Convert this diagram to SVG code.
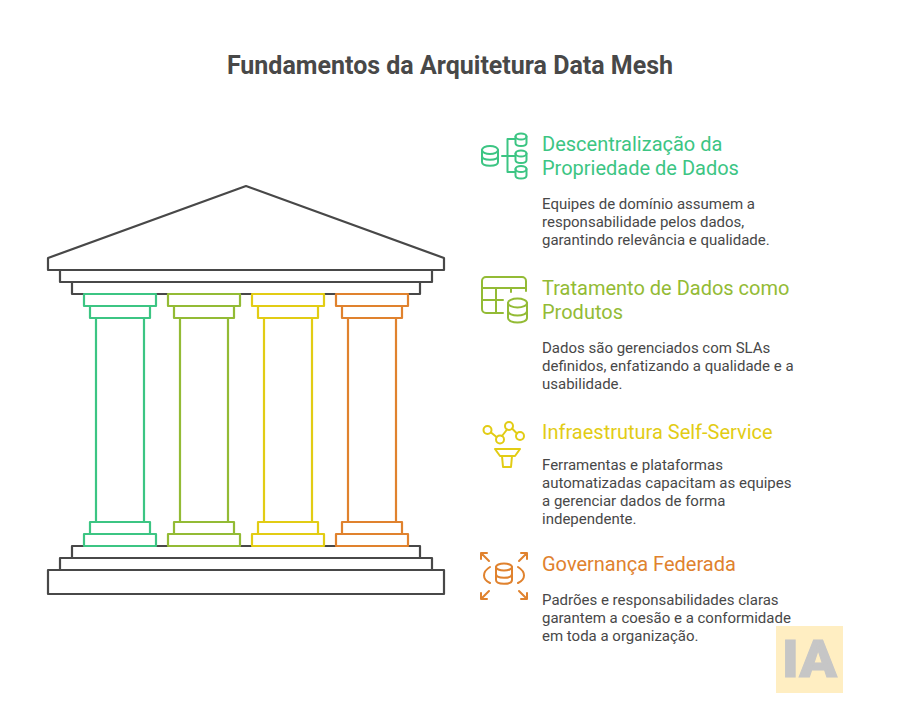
<svg xmlns="http://www.w3.org/2000/svg" width="900" height="720" viewBox="0 0 900 720">
<style>
text{font-family:Roboto,"Liberation Sans",sans-serif}
.t{font-size:25px;font-weight:700;fill:#484848}
.h{font-size:20px;font-weight:400}
.b{font-size:15px;fill:#484848}
.s{fill:#fff;stroke-width:2.200;stroke-linejoin:round;stroke-linecap:round}
.i{fill:none;stroke-width:2;stroke-linejoin:round;stroke-linecap:round}
.k{stroke:#484848}.g{stroke:#3cc583}.l{stroke:#93bb35}.y{stroke:#e2cc14}.o{stroke:#e0822e}
</style>
<rect width="900" height="720" fill="#fff"/>
<text class="t" x="450" y="73.500" text-anchor="middle">Fundamentos da Arquitetura Data Mesh</text>
<g id="temple">
<path class="s k" d="M48 258 L246 186 L444 258 V270 H48 Z"/>
<rect class="s k" x="60" y="270" width="372" height="12"/>
<rect class="s k" x="72" y="282" width="348" height="12"/>
<rect class="s k" x="72" y="546" width="348" height="12"/>
<rect class="s k" x="60" y="558" width="372" height="12"/>
<rect class="s k" x="48" y="570" width="396" height="24"/>
</g>
<g id="pillar-1">
<rect class="s g" x="96" y="318" width="48" height="204"/>
<rect class="s g" x="90" y="306" width="60" height="12"/><rect class="s g" x="84" y="294" width="72" height="12"/>
<rect class="s g" x="90" y="522" width="60" height="12"/><rect class="s g" x="84" y="534" width="72" height="12"/>
</g>
<g id="pillar-2">
<rect class="s l" x="180" y="318" width="48" height="204"/>
<rect class="s l" x="174" y="306" width="60" height="12"/><rect class="s l" x="168" y="294" width="72" height="12"/>
<rect class="s l" x="174" y="522" width="60" height="12"/><rect class="s l" x="168" y="534" width="72" height="12"/>
</g>
<g id="pillar-3">
<rect class="s y" x="264" y="318" width="48" height="204"/>
<rect class="s y" x="258" y="306" width="60" height="12"/><rect class="s y" x="252" y="294" width="72" height="12"/>
<rect class="s y" x="258" y="522" width="60" height="12"/><rect class="s y" x="252" y="534" width="72" height="12"/>
</g>
<g id="pillar-4">
<rect class="s o" x="348" y="318" width="48" height="204"/>
<rect class="s o" x="342" y="306" width="60" height="12"/><rect class="s o" x="336" y="294" width="72" height="12"/>
<rect class="s o" x="342" y="522" width="60" height="12"/><rect class="s o" x="336" y="534" width="72" height="12"/>
</g>
<g id="item-1">
<g class="i g">
<ellipse cx="490" cy="150" rx="8" ry="4"/>
<path d="M482 150 V162 c0 5 16 5 16 0 V150 M482 156 c0 5 16 5 16 0"/>
<path d="M502 156 H515 M515 139 H507.500 V172 H515"/>
<ellipse cx="521" cy="136.500" rx="5.500" ry="3"/>
<path d="M515.500 136.500 V143 c0 4 11 4 11 0 V136.500"/>
<ellipse cx="521" cy="153.500" rx="5.500" ry="3"/>
<path d="M515.500 153.500 V160 c0 4 11 4 11 0 V153.500"/>
<ellipse cx="521" cy="169" rx="5.500" ry="3"/>
<path d="M515.500 169 V175.500 c0 4 11 4 11 0 V169"/>
</g>
<text class="h" fill="#3cc583" x="542" y="151">Descentralização da</text>
<text class="h" fill="#3cc583" x="542" y="175">Propriedade de Dados</text>
<text class="b" x="542" y="209">Equipes de domínio assumem a</text>
<text class="b" x="542" y="227">responsabilidade pelos dados,</text>
<text class="b" x="542" y="245">garantindo relevância e qualidade.</text>
</g>
<g id="item-2">
<g class="i l">
<path d="M503 313 H486 a4 4 0 0 1-4-4 V281 a4 4 0 0 1 4-4 H522 a4 4 0 0 1 4 4 V291 M482 288 H526 M482 300 H503 M496 288 V313 M511 288 V292"/>
<ellipse cx="517.500" cy="303" rx="9.500" ry="4.500"/>
<path d="M508 303 V318 c0 6 19 6 19 0 V303 M508 311 c0 6 19 6 19 0"/>
</g>
<text class="h" fill="#93bb35" x="542" y="295">Tratamento de Dados como</text>
<text class="h" fill="#93bb35" x="542" y="319">Produtos</text>
<text class="b" x="542" y="353">Dados são gerenciados com SLAs</text>
<text class="b" x="542" y="371">definidos, enfatizando a qualidade e a</text>
<text class="b" x="542" y="389">usabilidade.</text>
</g>
<g id="item-3">
<g class="i y">
<circle cx="487.500" cy="430" r="4"/><circle cx="500" cy="439.500" r="4"/><circle cx="509" cy="426" r="4"/><circle cx="520" cy="436" r="4"/>
<path d="M491 432.500 L496.500 437 M502 436 L507 429.500 M512 428.500 L517 433.500"/>
<path d="M495 449 H520 L515 456 H500 Z M502 456 L503 467 H511 L512 456"/>
</g>
<text class="h" fill="#e2cc14" x="542" y="439">Infraestrutura Self-Service</text>
<text class="b" x="542" y="470">Ferramentas e plataformas</text>
<text class="b" x="542" y="488">automatizadas capacitam as equipes</text>
<text class="b" x="542" y="506">a gerenciar dados de forma</text>
<text class="b" x="542" y="524">independente.</text>
</g>
<g id="item-4">
<g class="i o">
<ellipse cx="504" cy="567" rx="8" ry="3.500"/>
<path d="M496 567 V580 c0 5 16 5 16 0 V567 M496 574 c0 5 16 5 16 0"/>
<path d="M490 567 c-8 5-8 12 0 16 M518 567 c8 5 8 12 0 16"/>
<path d="M481 553 L489 561 M481 553 V559 M481 553 H487"/>
<path d="M527 553 L519 561 M527 553 V559 M527 553 H521"/>
<path d="M481 599 L489 591 M481 599 V593 M481 599 H487"/>
<path d="M527 599 L519 591 M527 599 V593 M527 599 H521"/>
</g>
<text class="h" fill="#e0822e" x="542" y="571">Governança Federada</text>
<text class="b" x="542" y="605">Padrões e responsabilidades claras</text>
<text class="b" x="542" y="623">garantem a coesão e a conformidade</text>
<text class="b" x="542" y="641">em toda a organização.</text>
</g>
<g id="watermark">
<rect x="776" y="626" width="67" height="67" fill="#ffeec2"/>
<text x="782" y="677" font-weight="900" font-size="52" fill="#c6c6c6" stroke="#c6c6c6" stroke-width="1" textLength="55" lengthAdjust="spacingAndGlyphs" style="font-family:Roboto,'Liberation Sans',sans-serif">IA</text>
</g>
</svg>
